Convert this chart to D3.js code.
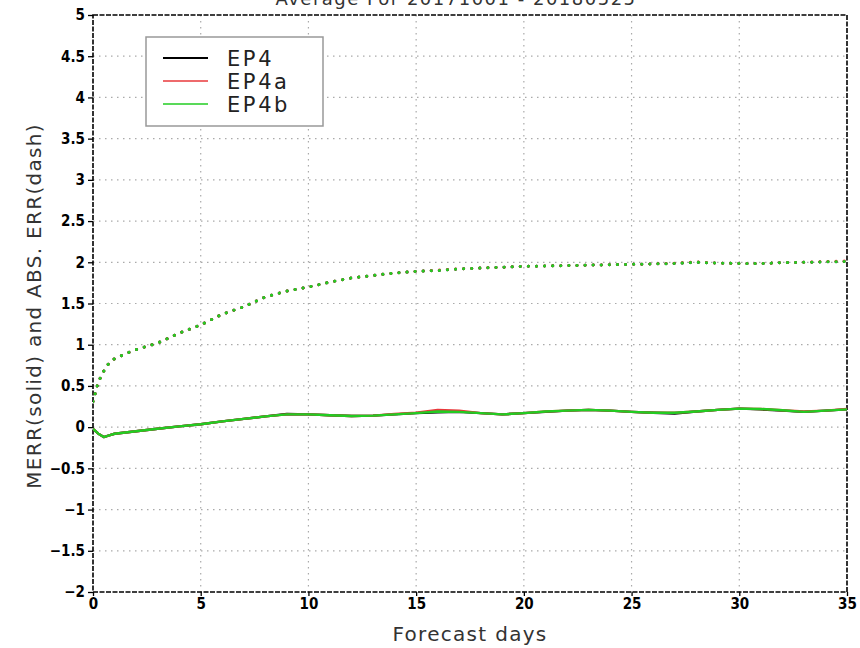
<!DOCTYPE html>
<html><head><meta charset="utf-8">
<script src="https://cdn.jsdelivr.net/npm/d3@7"></script>
<style>body{margin:0;background:#fff}svg{display:block}</style>
</head><body>
<svg id="c" width="860" height="648"></svg>
<script>
const days = [0,0.25,0.5,0.75,1,1.5,2,3,4,5,6,7,8,9,10,11,12,13,14,15,16,17,18,19,20,21,22,23,24,25,26,27,28,29,30,31,32,33,34,35];
const merrEP4  = [-0.02,-0.08,-0.12,-0.10,-0.08,-0.065,-0.05,-0.02,0.01,0.035,0.07,0.10,0.13,0.16,0.155,0.145,0.135,0.14,0.155,0.17,0.18,0.185,0.17,0.155,0.17,0.185,0.20,0.21,0.20,0.185,0.175,0.165,0.19,0.21,0.225,0.215,0.20,0.185,0.20,0.215];
const merrEP4a = [-0.02,-0.08,-0.12,-0.10,-0.08,-0.065,-0.05,-0.02,0.01,0.035,0.07,0.10,0.13,0.155,0.155,0.145,0.135,0.14,0.16,0.175,0.21,0.20,0.17,0.155,0.17,0.19,0.20,0.21,0.20,0.185,0.175,0.175,0.19,0.21,0.225,0.22,0.205,0.19,0.20,0.22];
const merrEP4b = [-0.02,-0.08,-0.12,-0.10,-0.08,-0.065,-0.05,-0.02,0.01,0.035,0.07,0.10,0.13,0.155,0.155,0.145,0.135,0.14,0.155,0.17,0.19,0.185,0.17,0.155,0.17,0.19,0.20,0.21,0.20,0.185,0.175,0.175,0.19,0.21,0.225,0.22,0.205,0.185,0.20,0.215];
const absEP4  = [0.31,0.55,0.68,0.78,0.83,0.89,0.94,1.02,1.14,1.24,1.37,1.46,1.58,1.65,1.70,1.76,1.81,1.84,1.87,1.89,1.90,1.92,1.93,1.94,1.95,1.955,1.96,1.965,1.97,1.975,1.98,1.985,2.00,1.99,1.985,1.985,1.995,2.00,2.005,2.01];
const absEP4a = [0.31,0.55,0.68,0.78,0.83,0.89,0.94,1.02,1.14,1.24,1.37,1.46,1.58,1.65,1.70,1.76,1.81,1.84,1.87,1.89,1.905,1.92,1.93,1.94,1.95,1.955,1.96,1.965,1.97,1.975,1.98,1.99,2.005,1.99,1.985,1.985,1.995,2.00,2.01,2.015];
const absEP4b = [0.31,0.55,0.68,0.78,0.83,0.89,0.94,1.02,1.14,1.24,1.37,1.46,1.58,1.65,1.70,1.76,1.81,1.84,1.87,1.89,1.90,1.92,1.93,1.94,1.95,1.955,1.96,1.965,1.97,1.975,1.98,1.985,2.00,1.99,1.985,1.985,1.995,2.00,2.005,2.01];
const seriesNames = ["EP4","EP4a","EP4b"];
const seriesColors = ["#000000","#e8383b","#22cc22"];
const xTicks = [0,5,10,15,20,25,30,35];
const yTicks = [-2,-1.5,-1,-0.5,0,0.5,1,1.5,2,2.5,3,3.5,4,4.5,5];
const titleText = "Average For 20171001 - 20180525";

const svg = d3.select("#c");
const L=93, R=847, T=15, B=592;
const x = d3.scaleLinear().domain([0,35]).range([L,R]);
const y = d3.scaleLinear().domain([-2,5]).range([B,T]);
const tickFont = "'DejaVu Sans', sans-serif";

// grid
const g = svg.append("g");
g.selectAll(".vg").data(xTicks.slice(1,-1)).join("line")
  .attr("x1",d=>x(d)).attr("x2",d=>x(d)).attr("y1",T).attr("y2",B)
  .attr("stroke","#aaa").attr("stroke-width",1.2).attr("stroke-dasharray","1.5,4.5");
g.selectAll(".hg").data(yTicks.slice(1,-1)).join("line")
  .attr("x1",L).attr("x2",R).attr("y1",d=>y(d)).attr("y2",d=>y(d))
  .attr("stroke","#aaa").attr("stroke-width",1.2).attr("stroke-dasharray","1.5,4.5");

// axes
const yAxis = d3.axisLeft(y).tickValues(yTicks).tickSize(5).tickPadding(3)
  .tickFormat(d=>String(d).replace("-","\u2212"));
const xAxis = d3.axisBottom(x).tickValues(xTicks).tickSize(4).tickPadding(2).tickFormat(d3.format("d"));
const ya = svg.append("g").attr("transform",`translate(${L},0)`).call(yAxis);
const xa = svg.append("g").attr("transform",`translate(0,${B})`).call(xAxis);
[ya,xa].forEach(a=>{
  a.select(".domain").remove();
  a.selectAll("line").attr("stroke","#000").attr("stroke-width",1.3);
  a.selectAll("text").attr("font-family",tickFont).attr("font-size",15).attr("font-weight","bold")
   .attr("font-stretch","condensed").attr("fill","#000");
});

// frame
svg.append("rect").attr("x",L).attr("y",T).attr("width",R-L).attr("height",B-T)
  .attr("fill","none").attr("stroke","#000").attr("stroke-width",1.6).attr("stroke-dasharray","5,1.5");

// lines
const line = d3.line().x((d,i)=>x(days[i])).y(d=>y(d));
const merr = [merrEP4,merrEP4a,merrEP4b];
const abse = [absEP4,absEP4a,absEP4b];
svg.append("clipPath").attr("id","cp").append("rect").attr("x",L).attr("y",T).attr("width",R-L).attr("height",B-T);
const pg = svg.append("g").attr("clip-path","url(#cp)");
abse.forEach((s,i)=>{
  pg.append("path").datum(s).attr("d",line).attr("fill","none")
    .attr("stroke",seriesColors[i]).attr("stroke-width",3).attr("stroke-linecap","round")
    .attr("stroke-dasharray","0.1,8");
});
merr.forEach((s,i)=>{
  pg.append("path").datum(s).attr("d",line).attr("fill","none")
    .attr("stroke",seriesColors[i]).attr("stroke-width",2.4).attr("stroke-linejoin","round");
});

// legend
const lg = svg.append("g");
lg.append("rect").attr("x",146).attr("y",37).attr("width",177).attr("height",89)
  .attr("fill","#fff").attr("stroke","#999").attr("stroke-width",1.5);
seriesNames.forEach((n,i)=>{
  const yy = 58 + i*23;
  lg.append("line").attr("x1",163).attr("x2",208).attr("y1",yy).attr("y2",yy)
    .attr("stroke",seriesColors[i]).attr("stroke-width",i===0?2:1.6);
  lg.append("text").attr("x",227).attr("y",yy+8).text(n)
    .attr("font-family",tickFont).attr("font-size",21).attr("letter-spacing",2.6)
    .attr("fill","#222");
});

// labels
svg.append("text").attr("x",470).attr("y",641).attr("text-anchor","middle")
  .attr("font-family",tickFont).attr("font-size",20).attr("letter-spacing",1.3).attr("fill","#333")
  .text("Forecast days");
svg.append("text").attr("transform","translate(41,306) rotate(-90)").attr("text-anchor","middle")
  .attr("font-family",tickFont).attr("font-size",20).attr("letter-spacing",1.3).attr("fill","#333")
  .text("MERR(solid) and ABS. ERR(dash)");
svg.append("text").attr("x",456).attr("y",5).attr("text-anchor","middle")
  .attr("font-family",tickFont).attr("font-size",18).attr("letter-spacing",1.5).attr("fill","#333")
  .text(titleText);
</script>
</body></html>
